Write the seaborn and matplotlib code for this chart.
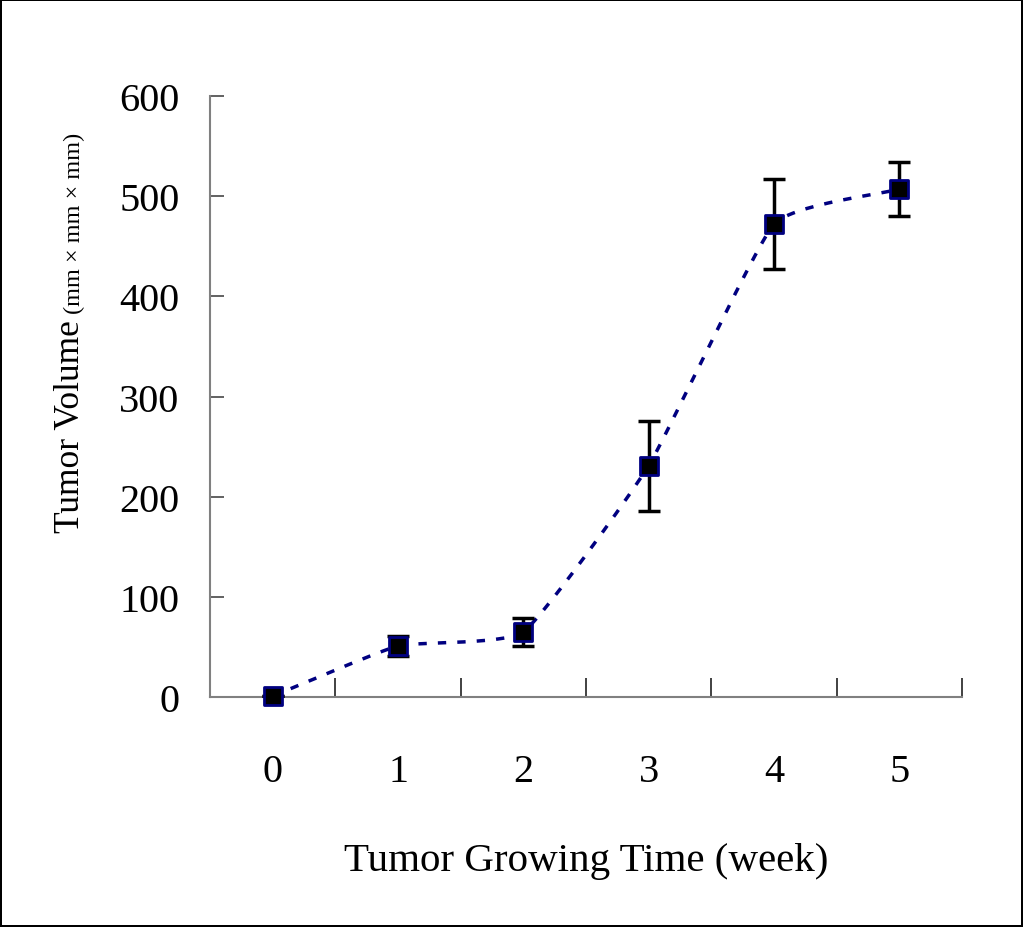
import numpy as np
import pandas as pd
import matplotlib
matplotlib.use("Agg")
import matplotlib.pyplot as plt
import seaborn as sns

# 数据
weeks = [0, 1, 2, 3, 4, 5]
volume = [1, 51, 65, 231, 472, 507]
err = [0, 10, 14, 45, 45, 27]
tick_labels = ["0", "1", "2", "3", "4", "5"]

sns.set_style("white")
plt.rcParams["font.family"] = ["Liberation Serif", "DejaVu Serif"]
plt.rcParams["text.color"] = "black"
plt.rcParams["axes.labelcolor"] = "black"
plt.rcParams["xtick.color"] = "black"
plt.rcParams["ytick.color"] = "black"

fig = plt.figure(figsize=(10.23, 9.28), dpi=100)
fig.patch.set_edgecolor("black")
fig.patch.set_linewidth(1.5)
ax = fig.add_axes([0.2053, 0.2478, 0.7351, 0.6477])

# 平滑曲线 (类似Excel的平滑线, 切线较弱)
x = np.array(weeks, dtype=float)
y = np.array(volume, dtype=float)
xp = np.concatenate([[2 * x[0] - x[1]], x, [2 * x[-1] - x[-2]]])
yp = np.concatenate([[2 * y[0] - y[1]], y, [2 * y[-1] - y[-2]]])
k = 1 / 14
xs, ys = [], []
t = np.linspace(0, 1, 30)
for i in range(1, len(xp) - 2):
    p0, p1, p2, p3 = [np.array([xp[j], yp[j]]) for j in range(i - 1, i + 3)]
    c1 = p1 + (p2 - p0) * k
    c2 = p2 - (p3 - p1) * k
    seg = ((1 - t) ** 3)[:, None] * p1 + (3 * (1 - t) ** 2 * t)[:, None] * c1 \
        + (3 * (1 - t) * t ** 2)[:, None] * c2 + (t ** 3)[:, None] * p2
    xs.extend(seg[:, 0])
    ys.extend(seg[:, 1])
curve = pd.DataFrame({"x": xs, "y": ys})
sns.lineplot(data=curve, x="x", y="y", ax=ax, color="#000080",
             linewidth=2.5, linestyle=(0, (2.4, 3.2)), sort=False,
             estimator=None, zorder=2)

ax.errorbar(weeks, volume, yerr=err, fmt="none", ecolor="black",
            elinewidth=2.5, capsize=8, capthick=2.5, zorder=3)
sns.scatterplot(x=weeks, y=volume, ax=ax, marker="s", s=170,
                color="black", edgecolor="#000080", linewidth=2, zorder=4,
                clip_on=False)

ax.set_xlim(-0.5, 5.5)
ax.set_ylim(0, 600)
ax.set_xticks(weeks)
ax.set_xticklabels(tick_labels)
ax.set_xticks(np.arange(-0.5, 5.6, 1), minor=True)
ax.set_yticks(range(0, 601, 100))
ax.tick_params(axis="x", which="major", bottom=True, length=0, pad=40,
               labelsize=29)
ax.tick_params(axis="x", which="minor", bottom=True, direction="in",
               length=14, width=1.3, color="#333333")
ax.tick_params(axis="y", left=True, direction="in", length=10, width=1.3,
               color="#555555", pad=22, labelsize=29)
ax.set_xlabel("Tumor Growing Time (week)", fontsize=29.5, labelpad=38)
ax.set_ylabel("")
for s in ["top", "right"]:
    ax.spines[s].set_visible(False)
for s in ["left", "bottom"]:
    ax.spines[s].set_color("#808080")
    ax.spines[s].set_linewidth(1.5)

fig.text(79 / 1023, 1 - 533 / 928, "Tumor Volume", rotation=90,
         rotation_mode="anchor", ha="left", va="baseline", fontsize=25.5)
fig.text(80 / 1023, 1 - 314 / 928, "(mm × mm × mm)", rotation=90,
         rotation_mode="anchor", ha="left", va="baseline", fontsize=17.5)

fig.savefig("out.png", dpi=100, edgecolor="black")
